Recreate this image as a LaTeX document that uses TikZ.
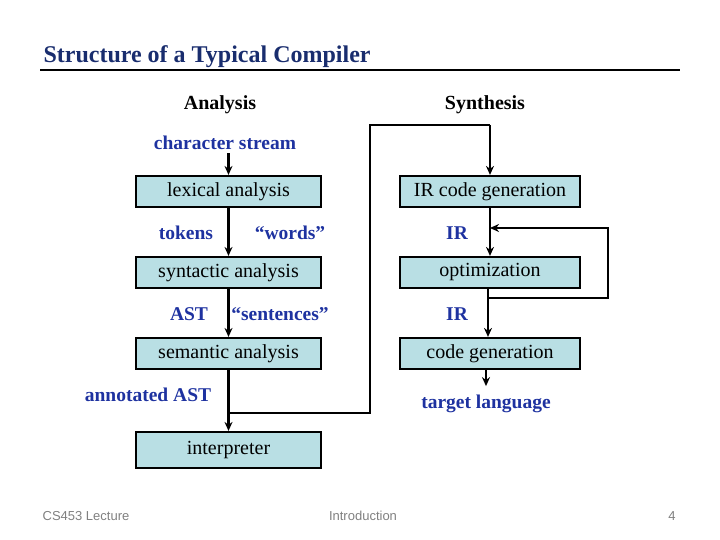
\documentclass[tikz,border=0pt]{standalone}
\usepackage{fontspec}
\setmainfont{Liberation Serif}
\newfontfamily\footfont{Liberation Sans}
\usetikzlibrary{arrows.meta}
\definecolor{boxfill}{RGB}{185,223,228}
\definecolor{lblue}{RGB}{30,50,160}
\definecolor{titleblue}{RGB}{25,45,110}
\tikzset{
  stage/.style={draw, line width=2.2pt, fill=boxfill, minimum width=185pt, minimum height=31pt, font=\fontsize{20}{23}\selectfont},
  lbl/.style={text=lblue, font=\bfseries\fontsize{19.5}{23}\selectfont},
  head/.style={font=\bfseries\fontsize{20}{23}\selectfont},
  flow/.style={line width=2.2pt, -{Stealth[length=9pt,width=8pt]}},
  foot/.style={text=gray, font=\footfont\fontsize{13}{15}\selectfont}
}
\begin{document}
\begin{tikzpicture}[x=1pt,y=-1pt]
			\useasboundingbox (0,0) rectangle (720,540);
			\node[anchor=west, text=titleblue, font=\bfseries\fontsize{24}{27}\selectfont] (title) at (40,57) {Structure of a Typical Compiler};
			\draw[line width=2.6pt] (40,70) -- (680,70);

			\node[head] (analysis) at (220,105) {Analysis};
			\node[head] (synthesis) at (485,105) {Synthesis};

			% analysis side
			\node[lbl] (chars) at (225,143) {character stream};
			\node[stage] (lex) at (228.5,191.5) {lexical analysis};
			\node[stage] (syn) at (228.5,272.5) {syntactic analysis};
			\node[stage] (sem) at (228.5,353.5) {semantic analysis};
			\node[stage, minimum height=36pt] (interp) at (228.5,450) {interpreter};
			\node[lbl] (tokens) at (186,233) {tokens};
			\node[lbl] (words) at (290,233) {``words''};
			\node[lbl] (ast) at (189,314) {AST};
			\node[lbl] (sentences) at (280,314) {``sentences''};
			\node[lbl] (annot) at (148,395) {annotated AST};
			\coordinate (split) at (227,413);

			\draw[flow] (chars.south -| lex.north) -- (lex.north);
			\draw[flow] (lex) -- (syn);
			\draw[flow] (syn) -- (sem);
			\draw[flow] (sem) -- (interp);

			% synthesis side
			\node[stage, minimum width=180pt] (irgen) at (490,191.5) {IR code generation};
			\node[stage, minimum width=180pt] (opt) at (490,272.5) {optimization};
			\node[stage, minimum width=180pt] (codegen) at (490,353.5) {code generation};
			\node[lbl] (ir1) at (457,233) {IR};
			\node[lbl] (ir2) at (457,314) {IR};
			\node[lbl] (target) at (486,404) {target language};
			\coordinate (bend1) at (370,413);
			\coordinate (bend2) at (370,125);
			\coordinate (loopa) at (488,298);
			\coordinate (loopb) at (608,298);
			\coordinate (loopc) at (608,228);
			\coordinate (loopd) at (490,228);

			\draw[line width=2.2pt] (split) -- (bend1) -- (bend2) -- (bend2 -| irgen);
			\draw[flow] (bend2 -| irgen) -- (irgen.north);
			\draw[flow] (irgen) -- (opt);
			\draw[flow] (opt.south -| loopa) -- (codegen.north -| loopa);
			\draw[flow] (loopa) -- (loopb) -- (loopc) -- (loopd);
			\draw[flow] (codegen.south -| target) -- ++(0,16);

			\node[foot] (lecture) at (86,516) {CS453 Lecture};
			\node[foot] (topic) at (363,516) {Introduction};
			\node[foot] (page) at (672,516) {4};
\end{tikzpicture}
\end{document}
